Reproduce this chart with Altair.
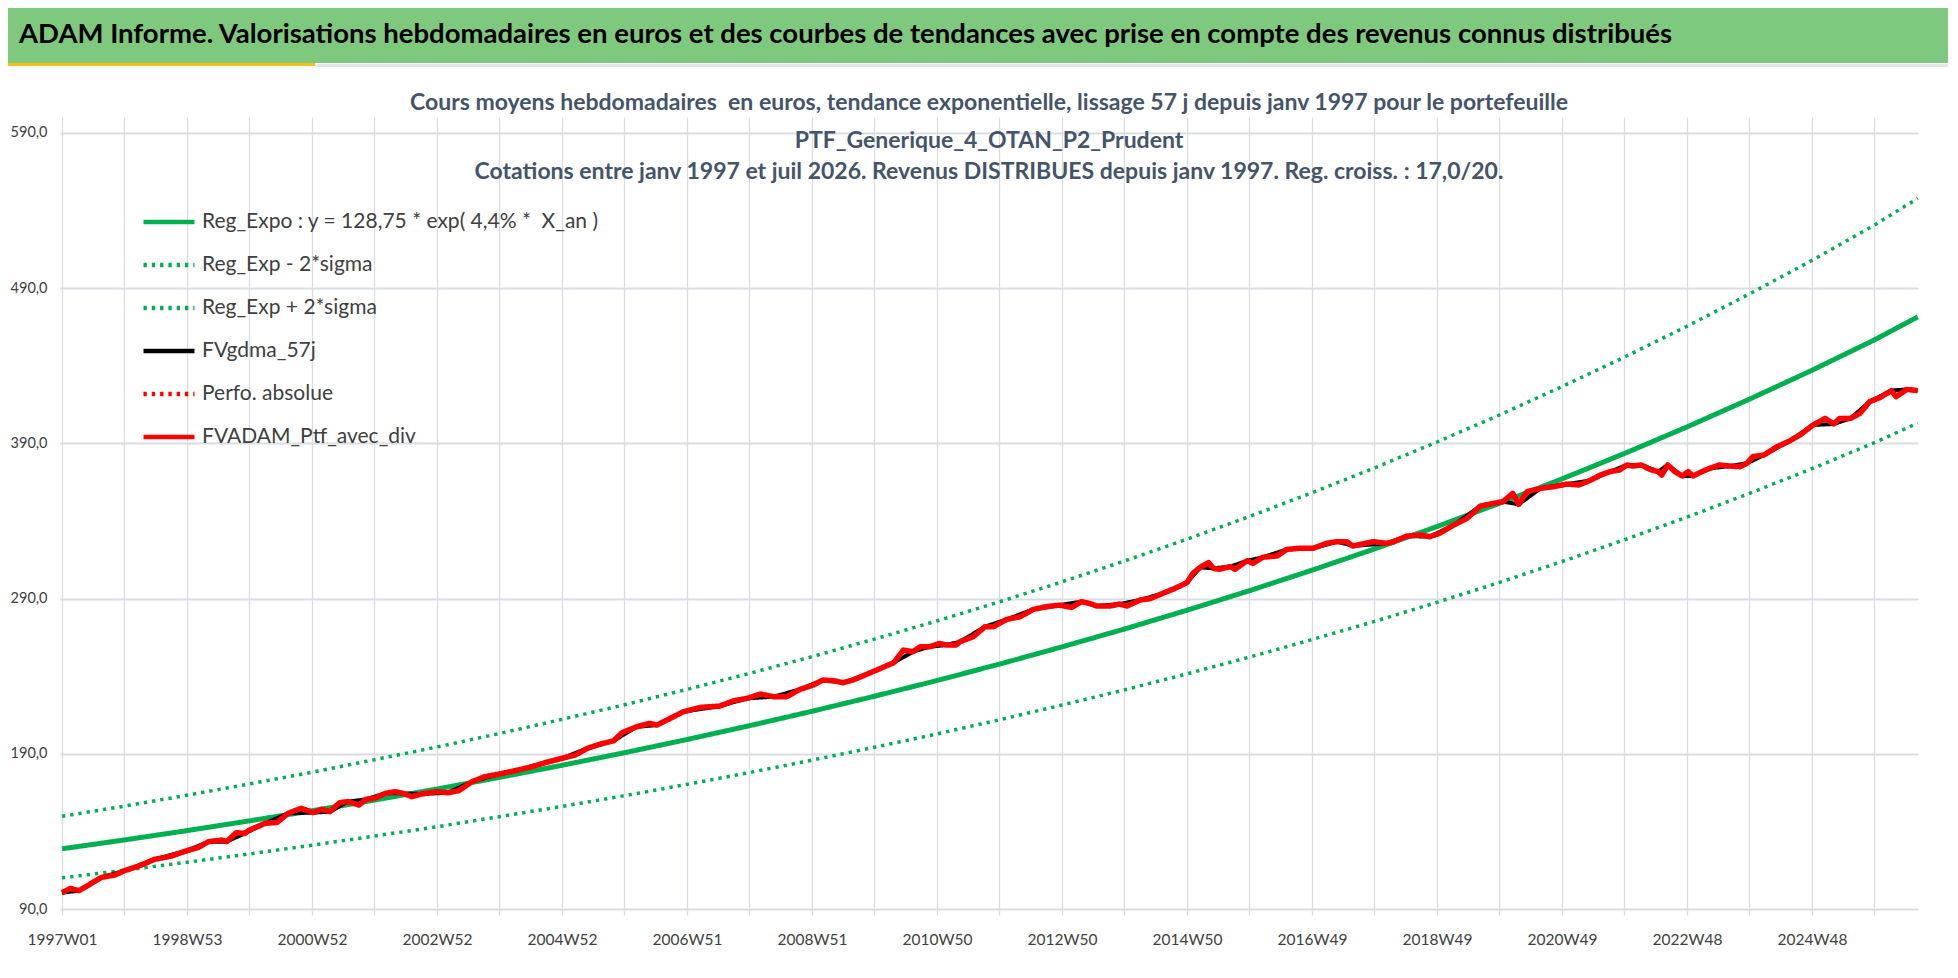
import altair as alt
import pandas as pd

NBSP = "\u00a0"
BANNER = "ADAM Informe. Valorisations hebdomadaires en euros et des courbes de tendances avec prise en compte des revenus connus distribués"
TITLE_LINES = [
    "Cours moyens hebdomadaires" + NBSP + " en euros, tendance exponentielle, lissage 57 j depuis janv 1997 pour le portefeuille",
    "PTF_Generique_4_OTAN_P2_Prudent",
    "Cotations entre janv 1997 et juil 2026. Revenus DISTRIBUES depuis janv 1997. Reg. croiss. : 17,0/20.",
]

SERIES = [
    "Reg_Expo : y = 128,75 * exp( 4,4% *" + NBSP + " X_an )",
    "Reg_Exp - 2*sigma",
    "Reg_Exp + 2*sigma",
    "FVgdma_57j",
    "Perfo. absolue",
    "FVADAM_Ptf_avec_div",
]
COLORS = ["#00B050", "#00B050", "#00B050", "#000000", "#FF0000", "#FF0000"]
DASHES = [[1, 0], [3.3, 5], [3.3, 5], [1, 0], [3.3, 5], [1, 0]]

X_LABELS = ["1997W01", "1998W53", "2000W52", "2002W52", "2004W52", "2006W51", "2008W51",
            "2010W50", "2012W50", "2014W50", "2016W49", "2018W49", "2020W49", "2022W48", "2024W48"]
Y_TICKS = [90, 190, 290, 390, 490, 590]

TREND_WEEKS = [0, 52, 104, 156, 208, 260, 312, 364, 416, 468, 520, 572, 624, 676, 728, 780,
               832, 884, 936, 988, 1040, 1092, 1144, 1196, 1248, 1300, 1352, 1404, 1456, 1508, 1544]
TREND = [128.8, 134.5, 140.5, 146.8, 153.3, 160.2, 167.3, 174.8, 182.6, 190.7,
         199.2, 208.1, 217.4, 227.1, 237.2, 247.8, 258.9, 270.4, 282.5, 295.1,
         308.3, 322.0, 336.4, 351.4, 367.1, 383.5, 400.6, 418.5, 437.1, 456.7, 471.5]
LOWER = [110.1, 115.0, 120.1, 125.5, 131.1, 137.0, 143.0, 149.5, 156.1, 163.0,
         170.3, 177.9, 185.9, 194.2, 202.8, 211.9, 221.4, 231.2, 241.5, 252.3,
         263.6, 275.3, 287.6, 300.4, 313.9, 327.9, 342.5, 357.8, 373.7, 390.5, 403.1]
UPPER = [149.7, 156.3, 163.3, 170.6, 178.1, 186.2, 194.4, 203.1, 212.2, 221.6,
         231.5, 241.8, 252.6, 263.9, 275.6, 287.9, 300.8, 314.2, 328.3, 342.9,
         358.2, 374.2, 390.9, 408.3, 426.6, 445.6, 465.5, 486.3, 507.9, 530.7, 547.9]

RED_WEEKS = [0, 7, 14, 22, 33, 44, 52, 64, 77, 91, 104, 113, 122, 133, 137, 145, 152, 156, 169, 179,
             188, 199, 209, 216, 223, 231, 238, 247, 253, 260, 269, 277, 284, 291, 299, 312, 321, 330, 341, 352,
             364, 377, 391, 402, 416, 427,
             437, 448, 459, 466, 478, 489, 495, 506, 517, 531, 547, 559, 570, 581, 592, 603, 614, 625, 633, 642,
             650, 658, 670, 681, 692, 700, 708, 714, 722, 730, 736, 744, 747, 758, 768, 775, 786, 797, 808, 819,
             830, 840,
             848, 855, 861, 872, 880, 886, 897, 905, 916, 926, 936, 941, 947, 954, 958, 963, 972, 976, 986, 991,
             999, 1011, 1019, 1030, 1041, 1052, 1061, 1069, 1074, 1091, 1102, 1108, 1119, 1130, 1138, 1146, 1158,
             1169, 1180, 1188, 1199, 1207, 1212, 1219, 1230, 1241, 1252,
             1262, 1271, 1280, 1288, 1296, 1302, 1307, 1314, 1321, 1328, 1331, 1336, 1342, 1348, 1353, 1357,
             1366, 1371, 1379, 1388, 1396, 1402, 1407, 1416, 1427, 1438, 1446, 1457, 1467, 1474, 1479, 1488,
             1496, 1504, 1513, 1522, 1526, 1535, 1544]
RED_VALUES = [100.5, 103.3, 101.8, 105.4, 110.4, 111.9, 114.7, 117.7, 122.0, 124.1,
              127.6, 129.5, 133.4, 134.4, 133.4, 139.2, 138.7, 140.9, 145.2, 145.8,
              151.6, 154.9, 152.1, 154.2, 152.7, 158.5, 159.2, 157.0, 160.7, 161.3,
              164.5, 165.6, 164.5, 162.4, 164.1, 165.6, 164.9, 166.2, 172.0, 175.3,
              177.0, 179.1, 181.7, 184.3, 187.1, 189.2,
              193.5, 196.3, 198.4, 203.6, 207.4, 209.6, 208.5, 212.8, 217.1, 219.9,
              220.7, 224.2, 225.7, 228.5, 226.8, 226.8, 231.5, 234.3, 237.5, 237.1,
              235.8, 237.5, 241.4, 245.0, 248.7, 256.8, 255.8, 259.0, 259.0, 261.1,
              260.1, 260.1, 262.2, 265.4, 271.9, 271.9, 276.6, 278.3, 283.0, 284.8,
              285.8, 284.3,
              288.0, 286.9, 285.2, 285.2, 286.5, 285.2, 289.1, 289.9, 293.4, 296.6,
              300.3, 306.3, 310.1, 313.2, 309.5, 308.9, 310.6, 308.9, 314.4, 312.7,
              316.6, 317.5, 321.7, 322.4, 322.4, 325.6, 326.7, 326.7, 323.9, 326.7,
              325.6, 326.7, 330.3, 331.0, 329.9, 332.0, 337.4, 341.7, 349.6, 350.9,
              352.5, 357.8, 350.7, 358.9, 361.0, 362.1, 363.8,
              363.2, 366.0, 369.6, 371.8, 372.9, 376.1, 375.4, 376.1, 373.3, 371.8,
              369.6, 376.1, 371.8, 369.0, 371.8, 369.0, 372.4, 373.9, 376.1, 375.4,
              375.0, 377.2, 381.5, 382.5, 387.9, 391.8, 395.4, 401.9, 406.1, 402.5,
              406.1, 406.1, 409.4, 416.9, 419.7, 424.0, 420.1, 424.8, 424.0]
assert len(RED_WEEKS) == len(RED_VALUES)

# ---- tables
trend_df = pd.DataFrame({"week": TREND_WEEKS, "value": TREND, "series": SERIES[0]})
band_df = pd.concat([
    pd.DataFrame({"week": TREND_WEEKS, "value": LOWER, "series": SERIES[1]}),
    pd.DataFrame({"week": TREND_WEEKS, "value": UPPER, "series": SERIES[2]}),
])
black_df = pd.DataFrame({"week": RED_WEEKS[::2] + [RED_WEEKS[-1]],
                         "value": RED_VALUES[::2] + [RED_VALUES[-1]], "series": SERIES[3]})
red_df = pd.DataFrame({"week": RED_WEEKS, "value": RED_VALUES, "series": SERIES[5]})

FONT = "Lato"
GRID = "#D9DDE3"
LABEL_COLOR = "#404040"
TITLE_COLOR = "#44546A"
W, H = 1858, 792

x_expr = "''"
for i in range(len(X_LABELS) - 1, -1, -1):
    x_expr = f"datum.value == {i * 104} ? '{X_LABELS[i]}' : ({x_expr})"

x_enc = alt.X("week:Q",
              scale=alt.Scale(domain=[-1.664, 1544.2], nice=False, zero=False),
              axis=alt.Axis(values=list(range(0, 1509, 52)), labelExpr=x_expr, title=None,
                            grid=True, gridColor=GRID, gridWidth=1.3, domain=False,
                            ticks=True, tickColor=GRID, tickSize=6, tickWidth=1.3,
                            labelFont=FONT, labelFontSize=15.5, labelColor=LABEL_COLOR,
                            labelPadding=17, labelOverlap=False, labelFlush=False))
y_enc = alt.Y("value:Q",
              scale=alt.Scale(domain=[90, 600.3], nice=False, zero=False),
              axis=alt.Axis(values=Y_TICKS, labelExpr="replace(format(datum.value, '.1f'), '.', ',')",
                            title=None, grid=True, gridColor=GRID, gridWidth=1.8, domain=False,
                            ticks=False, labelFont=FONT, labelFontSize=14.5, labelColor=LABEL_COLOR,
                            labelPadding=13))

legend = alt.Legend(title=None, orient="none", legendX=81, legendY=77, direction="vertical",
                    labelFont=FONT, labelFontSize=21, labelColor=LABEL_COLOR, labelLimit=700,
                    symbolType="stroke", symbolSize=2600, symbolStrokeWidth=4.5,
                    rowPadding=5, labelOffset=5, padding=0)
color_enc = alt.Color("series:N", scale=alt.Scale(domain=SERIES, range=COLORS), legend=legend)
dash_enc = alt.StrokeDash("series:N", scale=alt.Scale(domain=SERIES, range=DASHES), legend=legend)


def lines(df, width):
    return alt.Chart(df).mark_line(strokeWidth=width, strokeJoin="round").encode(
        x=x_enc, y=y_enc, color=color_enc, strokeDash=dash_enc, detail="series:N")


band_layer = lines(band_df, 3.5)
trend_layer = lines(trend_df, 5)
black_layer = lines(black_df, 4)
red_layer = lines(red_df, 5.5)

one = alt.Data(values=[{}])
banner = alt.Chart(one).mark_rect(color="#7FC97F").encode(
    x=alt.value(-52), x2=alt.value(1888), y=alt.value(-109), y2=alt.value(-54))
yellow = alt.Chart(one).mark_rect(color="#F5C01A").encode(
    x=alt.value(-52), x2=alt.value(255), y=alt.value(-54), y2=alt.value(-51))
sep = alt.Chart(one).mark_rect(color="#E3E7EC").encode(
    x=alt.value(255), x2=alt.value(1888), y=alt.value(-53), y2=alt.value(-50))
banner_text = alt.Chart(one).mark_text(
    text=BANNER, align="left", baseline="middle", font=FONT, fontSize=27.5,
    fontWeight="bold", color="#000000").encode(x=alt.value(-41), y=alt.value(-82))

title_layers = []
for txt, ypos in zip(TITLE_LINES, [-14, 24, 55]):
    title_layers.append(alt.Chart(one).mark_text(
        text=txt, align="center", baseline="middle", font=FONT, fontSize=23,
        fontWeight="bold", color=TITLE_COLOR).encode(x=alt.value(W / 2), y=alt.value(ypos)))

chart = alt.layer(banner, yellow, sep, banner_text, *title_layers,
                  band_layer, trend_layer, black_layer, red_layer).properties(
    width=W, height=H,
    autosize=alt.AutoSizeParams(type="none"),
    padding={"left": 52, "top": 109, "right": 30, "bottom": 54},
    background="white",
).configure_view(stroke=None)

chart.save("out.html", embed_options={"renderer": "svg", "actions": False})
